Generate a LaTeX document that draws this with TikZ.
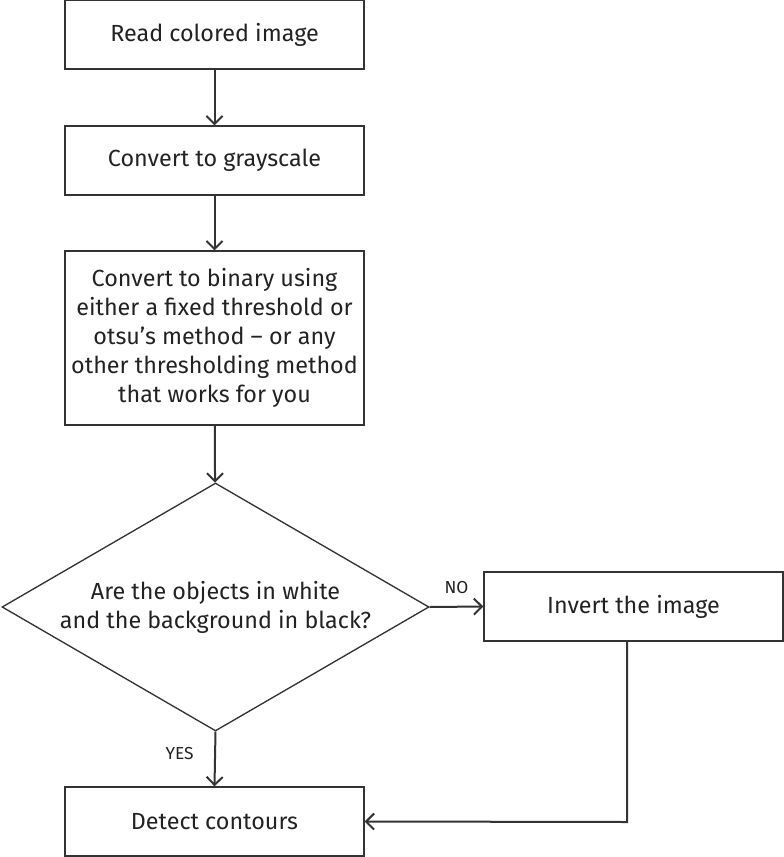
\documentclass[tikz,border=0pt]{standalone}
\usepackage{fontspec}
\setmainfont{Fira Sans}
\usetikzlibrary{shapes.geometric,arrows.meta}
\definecolor{linegray}{HTML}{333333}
\definecolor{txtgray}{HTML}{222222}

\begin{document}
\begin{tikzpicture}
  [x=0.75pt,y=-0.75pt,
   proc/.style={draw=linegray,line width=1pt,rectangle,minimum width=224.25pt,minimum height=51.75pt,inner sep=0pt,align=center,text=txtgray,font=\fontsize{17.5}{21.75}\selectfont},
   dec/.style={draw=linegray,line width=1pt,diamond,aspect=1.72,minimum width=320.25pt,minimum height=186pt,inner sep=0pt,align=center,text=txtgray,font=\fontsize{17.5}{21.75}\selectfont},
   flow/.style={draw=linegray,line width=1.5pt,-{Straight Barb[length=6pt,width=12pt,line width=1.5pt]}},
   lbl/.style={text=txtgray,font=\fontsize{13}{15}\selectfont}]
  \useasboundingbox (0,0) rectangle (784,857);
  \node[proc] (read) at (214.5,34.5) {Read colored image};
  \node[proc] (gray) at (214.5,160.5) {Convert to grayscale};
  \node[proc,minimum height=130.5pt] (bin) at (214.5,338) {Convert to binary using\\either a fixed threshold or\\otsu's method -- or any\\other thresholding method\\that works for you};
  \node[dec] (ask) at (215.5,607) {Are the objects in white\\and the background in black?};
  \node[proc] (inv) at (633.5,606.5) {Invert the image};
  \node[proc] (cont) at (214.5,821.5) {Detect contours};
  \coordinate (bend) at (627,822);
  \foreach \from/\to in {read/gray,gray/bin,bin/ask}
    \draw[flow] (\from) -- (\to);
  \draw[flow] (ask.south) -- node[lbl,pos=0.4,left=12pt] {YES} (cont.north);
  \draw[flow] (ask.east) -- node[lbl,above=6pt] {NO} (inv.west);
  \draw[flow] (inv.south -| bend) -- (bend) -- (cont.east);
\end{tikzpicture}
\end{document}
